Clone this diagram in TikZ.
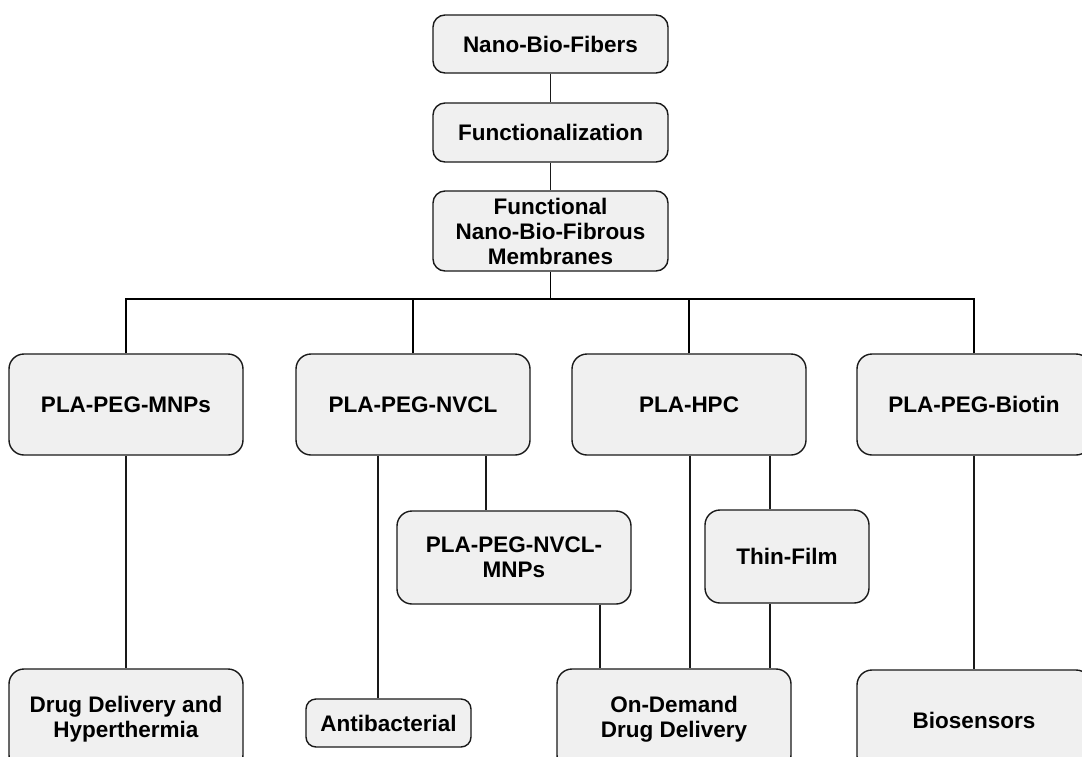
\documentclass[tikz,border=0pt]{standalone}
\usepackage{fontspec}
\setmainfont{Liberation Sans}
\usepackage{tikz}
\usetikzlibrary{positioning}

\begin{document}
\begin{tikzpicture}[x=1pt, y=-1pt,
		box/.style={draw=black!90, fill={rgb,255:red,240; green,240; blue,240}, line width=1.4pt, rounded corners=15pt, align=center, inner sep=0pt, font=\fontsize{22.5}{25}\selectfont\bfseries},
		link/.style={draw=black!90, line width=1.4pt},
		bus/.style={draw=black, line width=1.7pt}]
		% Frame
		\clip (0,0) rectangle (1082,756);
		\fill[white] (0,0) rectangle (1082,756);
		% Top chain
		\node[box, minimum width=235pt, minimum height=58pt, rounded corners=12pt] at (550.5,44) (fibers) {Nano-Bio-Fibers};
		\node[box, minimum width=235pt, minimum height=59pt, rounded corners=12pt] at (550.5,132.5) (funct) {Functionalization};
		\node[box, minimum width=235pt, minimum height=80pt, rounded corners=12pt] at (550.5,231) (membr) {Functional\\Nano-Bio-Fibrous\\Membranes};
		% Membranes
		\node[box, minimum width=234pt, minimum height=101pt] at (126,404.5) (mnps) {PLA-PEG-MNPs};
		\node[box, minimum width=234pt, minimum height=101pt] at (413,404.5) (nvcl) {PLA-PEG-NVCL};
		\node[box, minimum width=234pt, minimum height=101pt] at (689,404.5) (hpc) {PLA-HPC};
		\node[box, minimum width=234pt, minimum height=101pt] at (974,404.5) (biotin) {PLA-PEG-Biotin};
		% Intermediate steps
		\node[box, minimum width=234pt, minimum height=93pt] at (514,557.5) (nvclmnps) {PLA-PEG-NVCL-\\MNPs};
		\node[box, minimum width=164pt, minimum height=93pt] at (787,556.5) (thin) {Thin-Film};
		% Applications
		\node[box, minimum width=234pt, minimum height=101pt] at (126,719.5) (ddh) {Drug Delivery and\\Hyperthermia};
		\node[box, minimum width=165pt, minimum height=48pt, rounded corners=10pt] at (388.5,723) (antib) {Antibacterial};
		\node[box, minimum width=234pt, minimum height=101pt] at (674,719.5) (ondemand) {On-Demand\\Drug Delivery};
		\node[box, minimum width=234pt, minimum height=101pt] at (974,720.5) (biosens) {Biosensors};
		% Top links and bus
		\draw[link] (fibers) -- (funct);
		\draw[link] (funct) -- (membr);
		\coordinate (bus) at (550.5,299);
		\draw[bus] (membr.south) -- (bus);
		\draw[bus] (mnps.north) |- (bus);
		\draw[bus] (nvcl.north) |- (bus);
		\draw[bus] (hpc.north) |- (bus);
		\draw[bus] (biotin.north) |- (bus);
		% Lower links
		\coordinate (xab) at (378,0);
		\coordinate (xnm) at (486,0);
		\coordinate (xnd) at (600,0);
		\coordinate (xhd) at (690,0);
		\coordinate (xtf) at (770,0);
		\draw[link] (mnps) -- (ddh);
		\draw[link] (xab |- nvcl.south) -- (xab |- antib.north);
		\draw[link] (xnm |- nvcl.south) -- (xnm |- nvclmnps.north);
		\draw[link] (xnd |- nvclmnps.south) -- (xnd |- ondemand.north);
		\draw[link] (xhd |- hpc.south) -- (xhd |- ondemand.north);
		\draw[link] (xtf |- hpc.south) -- (xtf |- thin.north);
		\draw[link] (xtf |- thin.south) -- (xtf |- ondemand.north);
		\draw[link] (biotin) -- (biosens);
	\end{tikzpicture}
\end{document}
